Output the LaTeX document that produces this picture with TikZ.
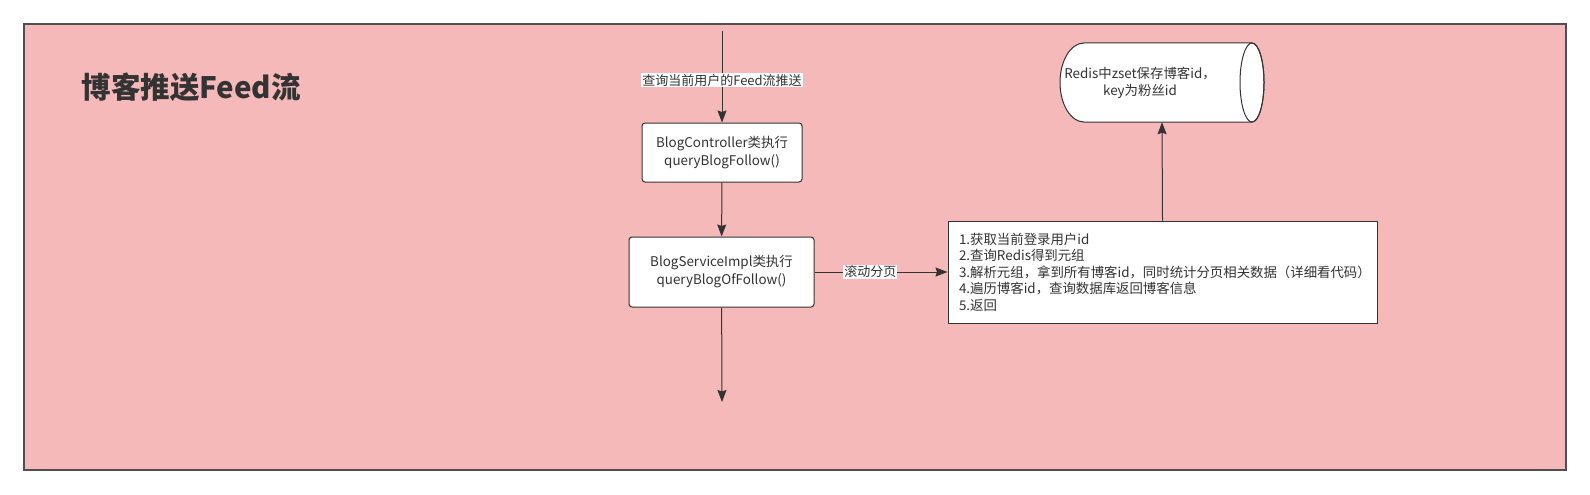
\documentclass[tikz,border=0pt]{standalone}
\usepackage{fontspec}
\setmainfont{Noto Sans CJK SC}
\usetikzlibrary{arrows.meta}
\definecolor{feedpink}{HTML}{F5B9B9}
\definecolor{inkgray}{HTML}{333333}
\definecolor{framegray}{HTML}{4D4F55}

\begin{document}
\begin{tikzpicture}[x=1pt,y=-1pt,
    flowarrow/.style={-{Stealth[length=12pt,width=9pt,inset=1.5pt]},draw=inkgray,line width=1pt},
    methodbox/.style={draw=inkgray,fill=white,rounded corners=3pt,line width=1pt,align=center,font=\fontsize{13.4}{18}\selectfont,text=inkgray},
    arrowlabel/.style={fill=white,inner sep=1pt,font=\fontsize{13}{15}\selectfont,text=inkgray}]
    \useasboundingbox[fill=white] (0,0) rectangle (1590,495);
    \draw[framegray,fill=feedpink,line width=1.3pt] (24,24) rectangle (1566,470);
    \node[anchor=west,font=\fontsize{29.5}{32}\selectfont\bfseries,text=inkgray] (title) at (78,87) {博客推送Feed流};
    \coordinate (feedin) at (722,31);
    \node[methodbox,minimum width=160pt,minimum height=59pt] (controller) at (722,152.5) {BlogController类执行\\queryBlogFollow()};
    \node[methodbox,minimum width=185pt,minimum height=70pt] (service) at (721.5,272) {BlogServiceImpl类执行\\queryBlogOfFollow()};
    \coordinate (feedout) at (722,402);
    \node[draw=inkgray,fill=white,line width=1pt,minimum width=429pt,minimum height=102pt,text width=407pt,inner xsep=11pt,align=left,font=\fontsize{13.4}{16.5}\selectfont,text=inkgray] (steps) at (1162.5,272) {1.获取当前登录用户id\\2.查询Redis得到元组\\3.解析元组，拿到所有博客id，同时统计分页相关数据（详细看代码）\\4.遍历博客id，查询数据库返回博客信息\\5.返回};
    \node[minimum width=204pt,minimum height=79pt,inner sep=0pt] (redis) at (1162,82.5) {};
    \draw[inkgray,fill=white,line width=1pt] (1084,122) arc[start angle=90,end angle=270,x radius=24,y radius=39.5] -- (1252,43) arc[start angle=270,end angle=450,x radius=12,y radius=39.5] -- cycle;
    \draw[inkgray,line width=1pt] (1252,82.5) ellipse[x radius=12,y radius=39.5];
    \node[align=center,font=\fontsize{13.4}{17}\selectfont,text=inkgray] (redistext) at (1140,83) {Redis中zset保存博客id，\\key为粉丝id};
    \draw[flowarrow] (feedin) -- node[arrowlabel,pos=0.54] (querylabel) {查询当前用户的Feed流推送} (controller);
    \draw[flowarrow] (controller) -- (service);
    \draw[flowarrow] (service) -- (feedout);
    \draw[flowarrow] (service) -- node[arrowlabel,pos=0.42] (scrolllabel) {滚动分页} (steps);
    \draw[flowarrow] (steps.north) -- (redis.south);
\end{tikzpicture}
\end{document}
